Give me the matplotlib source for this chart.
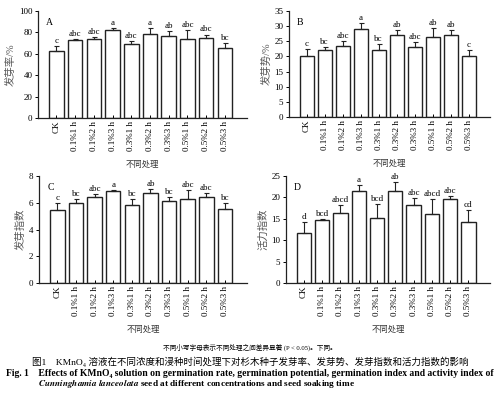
import matplotlib.pyplot as plt
import numpy as np

plt.rcParams['font.family'] = ['Liberation Serif', 'Noto Sans CJK SC']
plt.rcParams['mathtext.fontset'] = 'stix'

treatments = ['CK', '0.1%1 h', '0.1%2 h', '0.1%3 h', '0.3%1 h',
              '0.3%2 h', '0.3%3 h', '0.5%1 h', '0.5%2 h', '0.5%3 h']

rate_mean = [63, 73, 74, 82, 69, 78.5, 77, 74, 75, 65]
rate_err = [4, 1, 2, 2, 3, 5.5, 4, 8, 3, 5]
rate_sig = ['c', 'abc', 'abc', 'a', 'abc', 'a', 'ab', 'abc', 'abc', 'bc']

pot_mean = [20, 22, 23.5, 29.2, 22, 27.2, 23, 26.4, 27.2, 20.2]
pot_err = [2.5, 1.2, 1.5, 1.8, 2.2, 1.6, 1.6, 3.1, 1.6, 2.0]
pot_sig = ['c', 'bc', 'abc', 'a', 'bc', 'ab', 'abc', 'ab', 'ab', 'c']

gi_mean = [5.45, 5.95, 6.4, 6.9, 5.8, 6.75, 6.15, 6.25, 6.4, 5.55]
gi_err = [0.55, 0.3, 0.25, 0.05, 0.45, 0.25, 0.3, 0.7, 0.35, 0.45]
gi_sig = ['c', 'bc', 'abc', 'a', 'bc', 'ab', 'bc', 'abc', 'abc', 'bc']

vi_mean = [11.7, 14.8, 16.4, 21.6, 15.3, 21.5, 18.3, 16.2, 19.6, 14.3]
vi_err = [2.5, 0.2, 1.9, 1.2, 3.1, 2.1, 1.5, 3.5, 0.7, 2.8]
vi_sig = ['d', 'bcd', 'abcd', 'a', 'bcd', 'ab', 'abc', 'abcd', 'abc', 'cd']

panels = [
    # label, mean, err, sig, ylabel, ymax, yticks, pixel box (left, right, top, bottom)
    ('A', rate_mean, rate_err, rate_sig, '发芽率/%', 100, np.arange(0, 101, 20), (38, 247, 11, 118)),
    ('B', pot_mean, pot_err, pot_sig, '发芽势/%', 35, np.arange(0, 36, 5), (289, 490, 11, 117)),
    ('C', gi_mean, gi_err, gi_sig, '发芽指数', 8, np.arange(0, 9, 2), (39, 247, 176, 283)),
    ('D', vi_mean, vi_err, vi_sig, '活力指数', 25, np.arange(0, 26, 5), (286, 490, 176, 283)),
]

W, H = 500, 395
fig = plt.figure(figsize=(W / 100, H / 100), dpi=100)

for label, mean, err, sig, ylab, ymax, yticks, box in panels:
    l, r, t, b = box
    ax = fig.add_axes([l / W, 1 - b / H, (r - l) / W, (b - t) / H])
    x = np.arange(len(treatments))
    ax.bar(x, mean, width=0.78, color='white', edgecolor='#222222', linewidth=1.0)
    ax.errorbar(x, mean, yerr=[np.zeros(len(err)), err], fmt='none',
                ecolor='#222222', elinewidth=0.8, capsize=1.8, capthick=0.8)
    for xi, m, e, s in zip(x, mean, err, sig):
        ax.text(xi, m + e + ymax * 0.01, s, ha='center', va='bottom', fontsize=6.5)
    ax.set_xlim(-0.98, 10.18)
    ax.set_ylim(0, ymax)
    ax.set_yticks(yticks)
    ax.set_xticks(x)
    ax.set_xticklabels(treatments, rotation=90, fontsize=6.5)
    ax.tick_params(axis='x', direction='in', length=2, pad=2, width=0.7)
    ax.tick_params(axis='y', direction='out', length=2.5, pad=1.5, width=0.7, labelsize=6.5)
    for sp in ['top', 'right']:
        ax.spines[sp].set_visible(False)
    for sp in ['left', 'bottom']:
        ax.spines[sp].set_linewidth(0.9)
        ax.spines[sp].set_color('#222222')
    ax.set_ylabel(ylab, fontsize=7.5, labelpad=2, color='#555555')
    ax.text(0.04, 0.93, label, transform=ax.transAxes, fontsize=7, va='top')
    cx = (l + r) / 2 / W
    fig.text(cx, 1 - (b + 47) / H, '不同处理', ha='center', va='center', fontsize=6, color='#333333')

fig.text(0.5, 1 - 347 / H, '不同小写字母表示不同处理之间差异显著 (P < 0.05)。下同。',
         ha='center', va='center', fontsize=4.8)
fig.text(0.5, 1 - 362 / H, '图1    KMnO₄ 溶液在不同浓度和浸种时间处理下对杉木种子发芽率、发芽势、发芽指数和活力指数的影响',
         ha='center', va='center', fontsize=6.8)
fig.text(0.012, 1 - 373 / H,
         'Fig. 1    Effects of KMnO₄ solution on germination rate, germination potential, germination index and activity index of',
         ha='left', va='center', fontsize=6.95, fontweight='bold')
fig.text(0.076, 1 - 384 / H,
         r'$\mathbfit{Cunninghamia\ lanceolata}$ seed at different concentrations and seed soaking time',
         ha='left', va='center', fontsize=6.7, fontweight='bold')

fig.savefig('out.png', dpi=100)
